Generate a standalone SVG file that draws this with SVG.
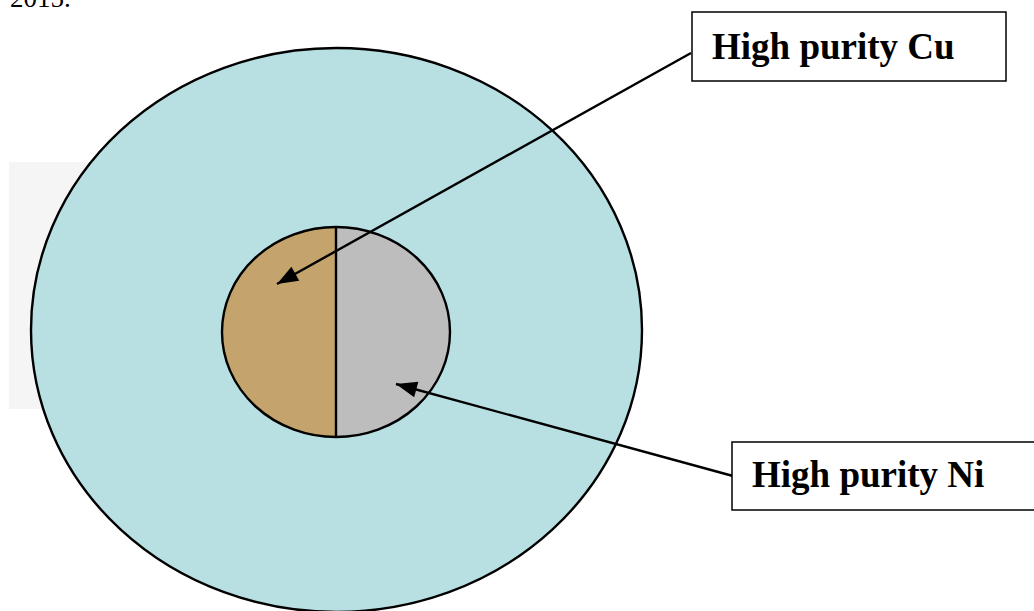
<svg xmlns="http://www.w3.org/2000/svg" width="1034" height="611" viewBox="0 0 1034 611">
<style>
.lbl{font-family:"Liberation Serif","Times New Roman",serif;font-weight:bold;font-size:37px;fill:#000}
.box{fill:#fff;stroke:#000;stroke-width:1.5}
.edge{stroke:#000;stroke-width:2.4;fill:none;marker-end:url(#ah)}
.ol{stroke:#000;stroke-width:2.4}
</style>
<defs>
<marker id="ah" markerUnits="userSpaceOnUse" markerWidth="22" markerHeight="18" refX="21" refY="8" orient="auto" overflow="visible">
<path d="M0,0 L21,8 L0,16 Z" fill="#000"/>
</marker>
</defs>
<rect width="1034" height="611" fill="#fff"/>
<text x="10" y="7" font-family="Liberation Serif, serif" font-size="27" fill="#000">2015.</text>
<rect x="9" y="162" width="120" height="247" fill="#f5f5f5"/>
<g id="outer">
<ellipse cx="336.5" cy="330" rx="305.5" ry="282" fill="#b8dfe2" class="ol"/>
</g>
<g id="core">
<path d="M336,227 A114,105 0 0 0 336,437 Z" fill="#c4a46c"/>
<path d="M336,227 A114,105 0 0 1 336,437 Z" fill="#bdbdbd"/>
<ellipse cx="336" cy="332" rx="114" ry="105" fill="none" class="ol"/>
<line x1="336" y1="227" x2="336" y2="437" class="ol"/>
</g>
<g id="connectors">
<line x1="691" y1="53" x2="277" y2="284" class="edge"/>
<line x1="733" y1="476" x2="396" y2="384" class="edge"/>
</g>
<g id="cu">
<rect x="692" y="12" width="314" height="69" class="box"/>
<text x="712" y="59" class="lbl">High purity Cu</text>
</g>
<g id="ni">
<rect x="732" y="442" width="310" height="68" class="box"/>
<text x="752" y="487" class="lbl">High purity Ni</text>
</g>
</svg>
